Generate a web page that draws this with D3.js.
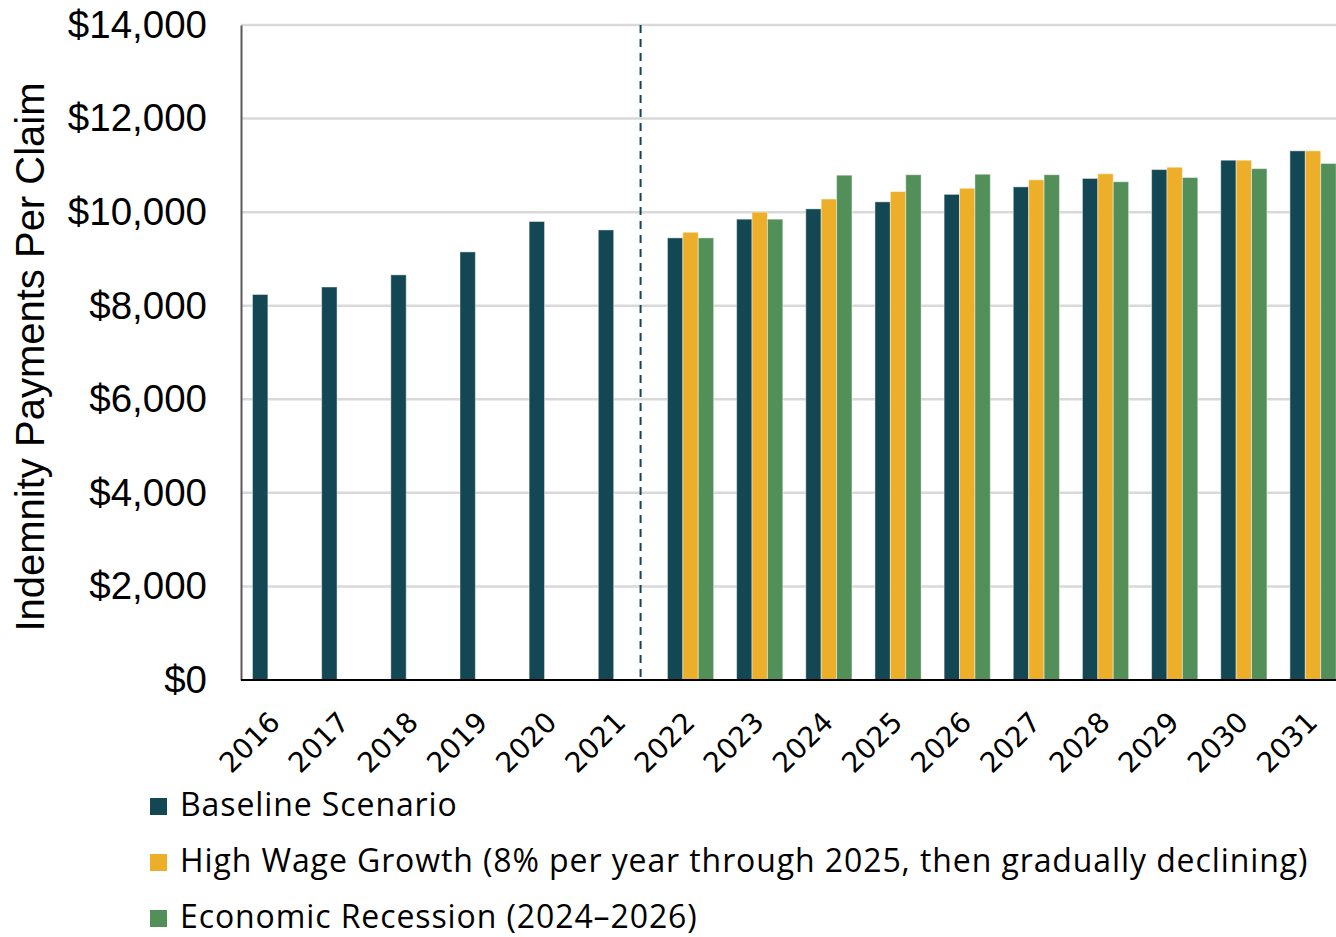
<!DOCTYPE html>
<html>
<head>
<meta charset="utf-8">
<script src="https://cdn.jsdelivr.net/npm/d3@7"></script>
<style>
  body { margin: 0; background: #fff; }
  svg { display: block; }
</style>
</head>
<body>
<div id="chart"></div>
<script>
// Data
const years = ["2016", "2017", "2018", "2019", "2020", "2021", "2022", "2023",
    "2024", "2025", "2026", "2027", "2028", "2029", "2030", "2031"];
const baseline = [8240, 8400, 8660, 9150, 9800, 9620, 9450, 9850,
    10070, 10220, 10380, 10540, 10720, 10910, 11110, 11310];
const highWage = [null, null, null, null, null, null, 9570, 10000,
    10280, 10440, 10510, 10690, 10820, 10960, 11110, 11310];
const recession = [null, null, null, null, null, null, 9450, 9850,
    10790, 10800, 10810, 10800, 10650, 10740, 10930, 11040];
const yTicks = [0, 2000, 4000, 6000, 8000, 10000, 12000, 14000];
const seriesNames = ["Baseline Scenario",
    "High Wage Growth (8% per year through 2025, then gradually declining)",
    "Economic Recession (2024\u20132026)"];
const colors = ["#134753", "#edaf29", "#528f59"];
const splitYear = "2022";

const W = 1336, H = 937;
const svg = d3.select("#chart")
    .append("svg")
    .attr("width", W)
    .attr("height", H);

// scales - plot runs off the right edge like the original
const x = d3.scaleBand()
    .domain(years)
    .range([241, 1347.6])
    .padding(0);

const y = d3.scaleLinear()
    .domain([0, 14000])
    .range([680, 25]);

const barW = 15.4;
const groupPad = (x.bandwidth() - barW * 3) / 2;

// gridlines
svg.append("g")
    .selectAll("line")
    .data(yTicks.filter(d => d > 0))
    .enter().append("line")
    .attr("x1", 241)
    .attr("x2", W)
    .attr("y1", d => y(d))
    .attr("y2", d => y(d))
    .attr("stroke", "#d9d9d9")
    .attr("stroke-width", 2.5);

// bars
const series = [baseline, highWage, recession];
series.forEach((vals, i) => {
    svg.append("g")
        .selectAll("rect")
        .data(years.map((yr, j) => ({ year: yr, value: vals[j] })).filter(d => d.value != null))
        .enter().append("rect")
        .attr("x", d => x(d.year) + groupPad + i * barW)
        .attr("y", d => y(d.value))
        .attr("width", barW)
        .attr("height", d => y(0) - y(d.value))
        .attr("fill", colors[i])
        .attr("stroke", "#ffffff")
        .attr("stroke-opacity", 0.45)
        .attr("stroke-width", 1);
});

// dashed divider between actuals and projections
const splitX = x(splitYear) + groupPad - (x.bandwidth() - barW) / 2;
svg.append("line")
    .attr("x1", splitX)
    .attr("x2", splitX)
    .attr("y1", y(14000))
    .attr("y2", y(0))
    .attr("stroke", "#134753")
    .attr("stroke-width", 2)
    .attr("stroke-dasharray", "8,6");

// y axis
const yAxis = svg.append("g")
    .attr("transform", "translate(241,0)")
    .call(d3.axisLeft(y).tickValues(yTicks).tickSize(0).tickPadding(34)
        .tickFormat(d => "$" + d3.format(",")(d)));
yAxis.select(".domain").attr("stroke", "#595959").attr("stroke-width", 2);
yAxis.selectAll("text")
    .attr("font-family", "'Liberation Sans', Arial, sans-serif")
    .attr("font-size", 38.5)
    .attr("fill", "#000");

// x axis
const xAxis = svg.append("g")
    .attr("transform", "translate(0,680)")
    .call(d3.axisBottom(x).tickSize(0).tickPadding(0));
xAxis.select(".domain").remove();
svg.append("line")
    .attr("x1", 241).attr("x2", W)
    .attr("y1", 680).attr("y2", 680)
    .attr("stroke", "#000")
    .attr("stroke-width", 2);
xAxis.selectAll("text")
    .attr("font-family", "'DejaVu Sans', sans-serif")
    .attr("font-size", 28)
    .attr("fill", "#000")
    .attr("text-anchor", "end")
    .attr("dy", null)
    .attr("y", 0)
    .attr("transform", "translate(6,44) rotate(-45)");

// y axis title
svg.append("text")
    .attr("transform", "translate(44,357) rotate(-90)")
    .attr("text-anchor", "middle")
    .attr("font-family", "'Liberation Sans', Arial, sans-serif")
    .attr("font-size", 40)
    .attr("fill", "#000")
    .text("Indemnity Payments Per Claim");

// legend
const legend = svg.append("g")
    .selectAll("g")
    .data(seriesNames)
    .enter().append("g")
    .attr("transform", (d, i) => `translate(150,${798 + i * 56})`);
legend.append("rect")
    .attr("width", 17)
    .attr("height", 17)
    .attr("fill", (d, i) => colors[i]);
legend.append("text")
    .attr("x", 30)
    .attr("y", 18)
    .attr("font-family", "'Open Sans', sans-serif")
    .attr("font-size", 32)
    .attr("letter-spacing", 0.9)
    .attr("fill", "#000")
    .text(d => d);
</script>
</body>
</html>
